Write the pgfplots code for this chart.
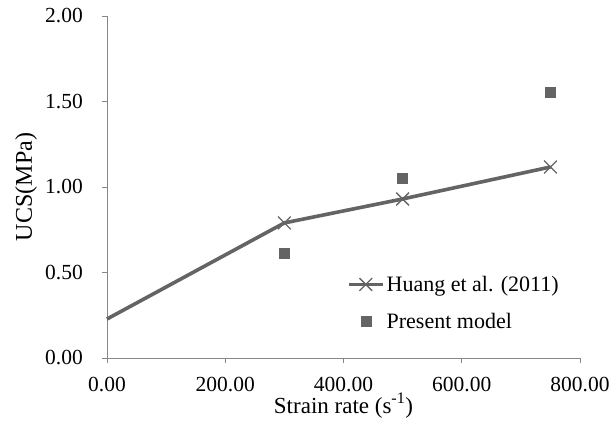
\documentclass[border=0pt]{standalone}
\usepackage{pgfplots}
\pgfplotsset{compat=1.18}
\usepackage{fontspec}
\setmainfont{Liberation Serif}
\definecolor{ln}{RGB}{100,100,100}
\definecolor{ax}{RGB}{135,135,135}
\begin{document}
\begin{tikzpicture}
\path[use as bounding box] (-107pt,-70pt) rectangle (502pt,358pt);
\begin{axis}[
  scale only axis,
  width=473pt, height=342pt,
  xmin=0, xmax=800, ymin=0, ymax=2,
  xtick={0,200,400,600,800},
  ytick={0,0.5,1,1.5,2},
  axis x line*=bottom, axis y line*=left,
  axis line style={ax, line width=0.9pt},
  tick style={ax, line width=0.9pt},
  tick align=outside, major tick length=5pt,
  /pgf/number format/assume math mode=true,
  /pgf/number format/.cd, fixed, fixed zerofill, precision=2, 1000 sep={},
  /pgfplots/.cd,
  tick label style={font=\fontsize{21.5}{24}\selectfont},
  yticklabel style={anchor=east, inner sep=0pt, xshift=-19pt},
  xticklabel style={anchor=north, inner sep=0pt, yshift=-14pt},
  xlabel={Strain rate (s\textsuperscript{-1})},
  ylabel={UCS(MPa)},
  xlabel style={at={(axis description cs:0.5,0)}, anchor=base, yshift=-55pt, inner sep=0pt, font=\fontsize{23}{24}\selectfont},
  ylabel style={at={(axis description cs:0,0.5)}, anchor=center, yshift=81pt, inner sep=0pt, font=\fontsize{24}{24}\selectfont},
  legend style={draw=none, fill=none, at={(axis description cs:0.507,0.246)}, anchor=north west,
    font=\fontsize{22}{24}\selectfont, inner sep=0pt, row sep=16pt,
    nodes={inner sep=2pt}},
  legend image code/.code={\draw[#1, mark indices={2}] plot coordinates {(0pt,0pt) (17pt,0pt) (34pt,0pt)};},
  legend cell align=left,
  clip=false,
]
\addplot[ln, line width=3.6pt, mark=x, mark indices={2,3,4}, mark size=9pt, mark options={line width=1.3pt}]
  coordinates {(0,0.228) (300,0.79) (500,0.93) (750,1.117)};
\addlegendentry{Huang et al. (2011)}
\addplot[only marks, mark=square*, mark size=5pt, color=ln]
  coordinates {(300,0.614) (500,1.053) (750,1.556)};
\addlegendentry{Present model}
\end{axis}
\end{tikzpicture}
\end{document}
